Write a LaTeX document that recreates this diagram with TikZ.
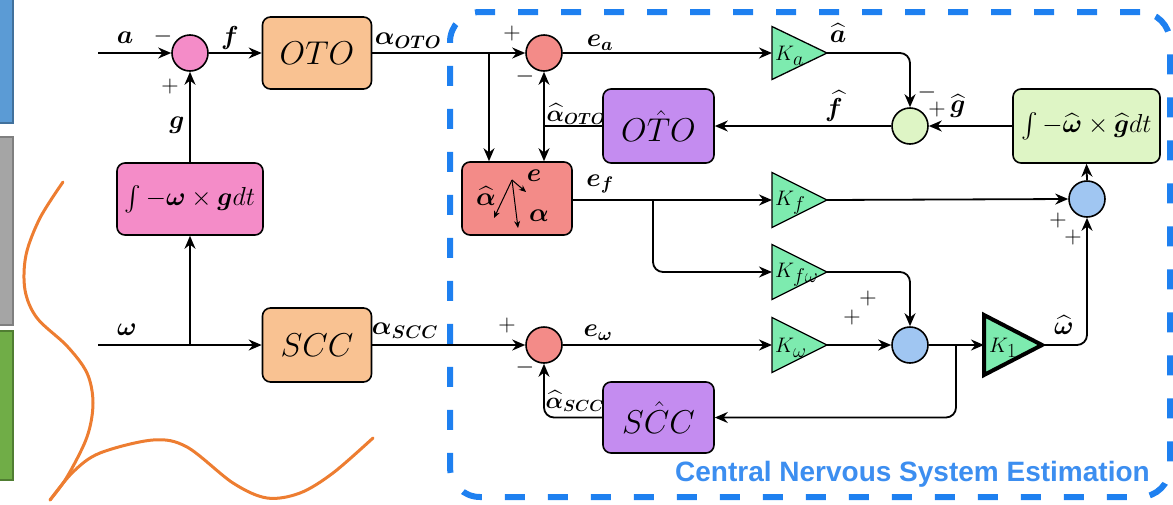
\RequirePackage{fix-cm}
\documentclass[tikz,border=0pt]{standalone}
\usepackage{amsmath,bm}
\usepackage{fontspec}
\newfontfamily\cnsfont{Liberation Sans}
\usetikzlibrary{arrows.meta}
\definecolor{pinkc}{RGB}{244,140,200}
\definecolor{peach}{RGB}{249,194,146}
\definecolor{salmon}{RGB}{243,139,136}
\definecolor{lav}{RGB}{196,140,240}
\definecolor{lgreen}{RGB}{222,245,197}
\definecolor{mint}{RGB}{125,235,175}
\definecolor{lblue}{RGB}{160,198,242}
\definecolor{dashblue}{RGB}{30,128,240}
\definecolor{txtblue}{RGB}{60,142,240}
\definecolor{orng}{RGB}{237,125,49}
\definecolor{barblue}{RGB}{91,155,213}
\definecolor{barblueb}{RGB}{65,113,156}
\definecolor{bargray}{RGB}{165,165,165}
\definecolor{bargrayb}{RGB}{127,127,127}
\definecolor{bargreen}{RGB}{112,173,71}
\definecolor{bargreenb}{RGB}{80,126,50}
\newcommand{\mygain}[6]{%
  \coordinate (#1-in) at (#2,#3);
  \coordinate (#1-out) at ({#2+#4},#3);
  \draw[gainst,#6] ({#2},{#3-#5/2}) -- (#1-out) -- ({#2},{#3+#5/2}) -- cycle;
}
\newcommand{\klab}[1]{$K$\kern-1pt\raisebox{-5pt}{\fontsize{20}{23}\selectfont$#1$}}
\tikzset{
  ln/.style={line width=1.8pt},
  arr/.style={-{Stealth[length=13pt,width=11pt]}},
  sumc/.style={circle, draw, line width=1.6pt, minimum size=36pt, inner sep=0pt},
  blk/.style={draw, rounded corners=8pt, line width=1.6pt, inner sep=0pt},
  gainst/.style={draw, line width=1.3pt, fill=mint, line join=miter},
  lbl/.style={font=\fontsize{26}{30}\selectfont, inner sep=0pt},
  sgn/.style={font=\fontsize{24}{28}\selectfont, inner sep=0pt},
  btxt/.style={font=\fontsize{33}{38}\selectfont},
  ktxt/.style={font=\fontsize{21}{25}\selectfont, inner sep=0pt},
}
\begin{document}
\begin{tikzpicture}[x=1pt,y=-1pt]
\useasboundingbox (0,0) rectangle (1173,504);
% left bars
\draw[fill=barblue, draw=barblueb, line width=2pt] (-3,-3) rectangle (13,123);
\draw[fill=bargray, draw=bargrayb, line width=2pt] (-3,137) rectangle (13,325);
\draw[fill=bargreen, draw=bargreenb, line width=2pt] (-3,331) rectangle (13,480);
% orange curve
\draw[orng, line width=3pt, line cap=round] plot[smooth, tension=0.55] coordinates {(63,182) (40,218) (26,255) (25,290) (37,318) (67,346) (87,373) (93,403) (87,437) (67,477) (50,500)};
\draw[orng, line width=3pt, line cap=round] plot[smooth, tension=0.55] coordinates {(50,500) (73,472) (100,453) (153,440) (187,447) (233,483) (267,498) (300,493) (333,473) (373,438)};
% dashed frame
\node[draw=dashblue, line width=6pt, dash pattern=on 20pt off 23pt, rounded corners=30pt, minimum width=720pt, minimum height=485pt, inner sep=0pt] (cns) at (810,254.5) {};
\node[anchor=base east, font=\cnsfont\bfseries\fontsize{28}{32}\selectfont, text=txtblue, inner sep=0pt] (cnsl) at (1150,481) {Central Nervous System Estimation};
% blocks
\node[sumc, fill=pinkc] (s1) at (190,53) {};
\node[blk, fill=peach, minimum width=109pt, minimum height=72pt, btxt] (oto) at (317,53) {$OTO$};
\node[blk, fill=pinkc, minimum width=146pt, minimum height=72pt, font=\fontsize{26}{30}\selectfont] (int) at (190,199) {$\int -\bm{\omega}\times\bm{g}dt$};
\node[blk, fill=peach, minimum width=109pt, minimum height=74pt, btxt] (scc) at (317,345) {$SCC$};
\node[sumc, fill=salmon] (c1) at (544,53) {};
\node[blk, fill=lav, minimum width=111pt, minimum height=74pt, btxt] (otoh) at (658.5,126) {$O\hat{T}O$};
\node[blk, fill=salmon, minimum width=110pt, minimum height=73pt] (ab) at (517,198.5) {};
\node[sumc, fill=lgreen] (gc) at (910,126) {};
\node[blk, fill=lgreen, minimum width=147pt, minimum height=74pt, font=\fontsize{26}{30}\selectfont] (ihat) at (1086.5,126) {$\int -\widehat{\bm{\omega}}\times\widehat{\bm{g}}dt$};
\node[sumc, fill=lblue] (bc1) at (1087,199) {};
\node[sumc, fill=salmon] (c2) at (544,345) {};
\node[sumc, fill=lblue] (bc2) at (910,345) {};
\node[blk, fill=lav, minimum width=111pt, minimum height=71pt, btxt] (scch) at (658.5,417.5) {$S\hat{C}C$};
% gains
\mygain{Ka}{772}{53}{55}{53}{}
\mygain{Kf}{772}{200}{55}{55}{}
\mygain{Kfw}{772}{272}{55}{55}{}
\mygain{Kw}{772}{345}{55}{55}{}
\mygain{K1}{984}{345}{58}{60}{line width=4pt}
\node[ktxt, anchor=west] (tKa) at (775,56) {\klab{a}};
\node[ktxt, anchor=west] (tKf) at (775,203) {\klab{f}};
\node[ktxt, anchor=west] (tKfw) at (775,275) {\klab{f\omega}};
\node[ktxt, anchor=west] (tKw) at (775,348) {\klab{\omega}};
\node[ktxt, anchor=west] (tK1) at (989,348) {\klab{1}};
% alpha box content
\coordinate (o) at (512,180);
\coordinate (pa) at (494,218);
\coordinate (pb) at (518,228);
\coordinate (pc) at (526,192);
\draw[line width=1pt, -{Stealth[length=7pt,width=6pt]}] (o) -- (pa);
\draw[line width=1pt, -{Stealth[length=7pt,width=6pt]}] (o) -- (pb);
\draw[line width=1pt, -{Stealth[length=7pt,width=6pt]}] (o) -- (pc);
\node[lbl] (ahat) at (486,196) {$\widehat{\bm{\alpha}}$};
\node[lbl] (ee) at (534,176) {$\bm{e}$};
\node[lbl] (aa) at (539,216) {$\bm{\alpha}$};
% connectors
\coordinate (ain) at (98,53);
\coordinate (win) at (98,345);
\coordinate (j0) at (190,345);
\coordinate (j1) at (489,53);
\coordinate (j2) at (653,200);
\coordinate (j3) at (956,345);
\coordinate (j4) at (544,126);
\draw[ln,arr] (ain) -- (s1.west);
\draw[ln,arr] (s1.east) -- (oto.west);
\draw[ln,arr] (oto.east) -- (c1.west);
\draw[ln,arr] (j1) -- (j1 |- ab.north);
\draw[ln,arr] (win) -- (scc.west);
\draw[ln,arr] (j0) -- (int.south);
\draw[ln,arr] (int.north) -- (s1.south);
\draw[ln,arr] (scc.east) -- (c2.west);
\draw[ln,arr] (c1.east) -- (Ka-in);
\draw[ln,arr,rounded corners=10pt] (Ka-out) -| (gc.north);
\draw[ln,arr] (ihat.west) -- (gc.east);
\draw[ln,arr] (gc.west) -- (otoh.east);
\draw[ln] (otoh.west) -- (j4);
\draw[ln,arr] (j4) -- (c1.south);
\draw[ln,arr] (j4) -- (j4 |- ab.north);
\draw[ln,arr] (ab.east |- Kf-in) -- (Kf-in);
\draw[ln,arr,rounded corners=10pt] (j2) |- (Kfw-in);
\draw[ln,arr] (Kf-out) -- (bc1.west);
\draw[ln,arr] (bc1.north) -- (ihat.south);
\draw[ln,arr,rounded corners=10pt] (Kfw-out) -| (bc2.north);
\draw[ln,arr] (c2.east) -- (Kw-in);
\draw[ln,arr] (Kw-out) -- (bc2.west);
\draw[ln,arr] (bc2.east) -- (K1-in);
\draw[ln,arr,rounded corners=10pt] (j3) |- (scch.east);
\draw[ln,arr,rounded corners=10pt] (scch.west) -| (c2.south);
\draw[ln,arr,rounded corners=10pt] (K1-out) -| (bc1.south);
% labels
\node[lbl] (la) at (125,38) {$\bm{a}$};
\node[sgn] (m1) at (163,36) {$-$};
\node[sgn] (p1) at (170,86) {$+$};
\node[lbl] (lf) at (230,38) {$\bm{f}$};
\node[lbl] (lg) at (177,125) {$\bm{g}$};
\node[lbl] (laoto) at (408,41) {$\bm{\alpha}_{\bm{OTO}}$};
\node[lbl] (lw) at (127,330) {$\bm{\omega}$};
\node[lbl] (lascc) at (405,331) {$\bm{\alpha}_{\bm{SCC}}$};
\node[sgn] (p2) at (512,33) {$+$};
\node[sgn] (m2) at (525,76) {$-$};
\node[lbl] (lea) at (600,43) {$\bm{e}_{\bm{a}}$};
\node[lbl] (lahat) at (838,33) {$\widehat{\bm{a}}$};
\node[sgn] (m3) at (927,92) {$-$};
\node[sgn] (p3) at (937,109) {$+$};
\node[lbl] (lghat) at (958,106) {$\widehat{\bm{g}}$};
\node[lbl] (lfhat) at (834,106) {$\widehat{\bm{f}}$};
\node[lbl, font=\fontsize{23}{27}\selectfont] (laotoh) at (576,114) {$\widehat{\bm{\alpha}}_{\bm{OTO}}$};
\node[lbl] (lef) at (600,184) {$\bm{e}_{\bm{f}}$};
\node[sgn] (p4) at (1058,220) {$+$};
\node[sgn] (p5) at (1073,237) {$+$};
\node[sgn] (p6) at (868,298) {$+$};
\node[sgn] (p7) at (852,317) {$+$};
\node[sgn] (p8) at (507,325) {$+$};
\node[sgn] (m4) at (525,367) {$-$};
\node[lbl] (lew) at (598,333) {$\bm{e}_{\bm{\omega}}$};
\node[lbl, font=\fontsize{23}{27}\selectfont] (lascch) at (575,401) {$\widehat{\bm{\alpha}}_{\bm{SCC}}$};
\node[lbl] (lwhat) at (1064,325) {$\widehat{\bm{\omega}}$};
\end{tikzpicture}
\end{document}
